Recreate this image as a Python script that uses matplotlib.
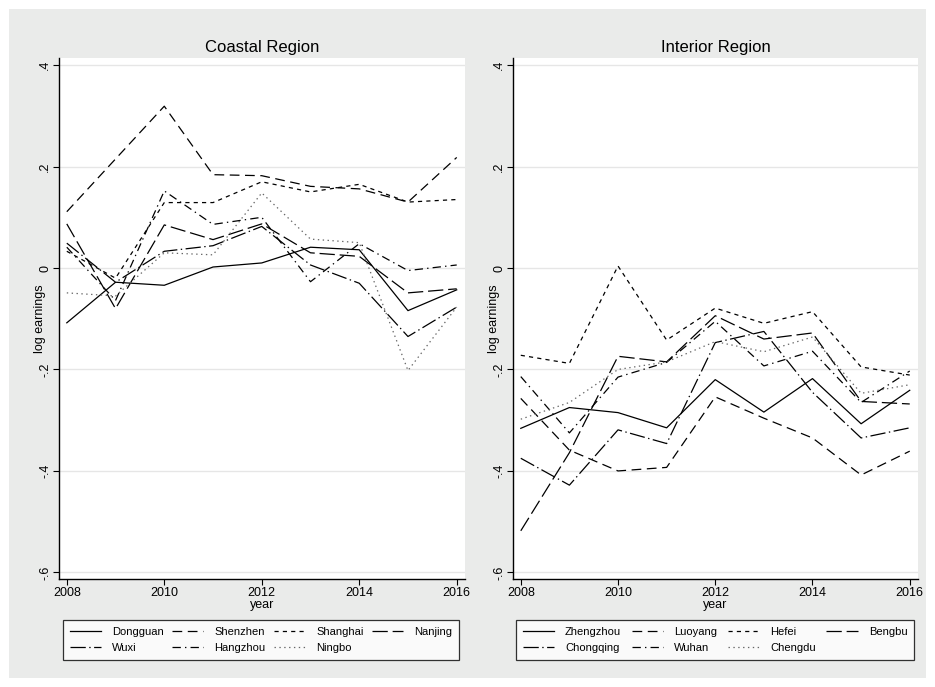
import numpy as np
import matplotlib
matplotlib.use("Agg")
from matplotlib import pyplot as plt
from matplotlib.patches import Rectangle

plt.rcParams['font.family'] = ['Liberation Sans', 'DejaVu Sans']
plt.rcParams['lines.scale_dashes'] = False

# Data
years = [2008, 2009, 2010, 2011, 2012, 2013, 2014, 2015, 2016]

coastal_names = ["Dongguan", "Shenzhen", "Shanghai", "Nanjing", "Wuxi", "Hangzhou", "Ningbo"]
dongguan = [-0.108, -0.028, -0.034, 0.002, 0.010, 0.041, 0.036, -0.084, -0.043]
shenzhen = [0.111, 0.215, 0.319, 0.184, 0.182, 0.161, 0.156, 0.130, 0.218]
shanghai = [0.033, -0.020, 0.129, 0.129, 0.170, 0.150, 0.165, 0.130, 0.135]
nanjing = [0.087, -0.080, 0.085, 0.056, 0.087, 0.030, 0.023, -0.049, -0.041]
wuxi = [0.049, -0.028, 0.033, 0.044, 0.082, 0.006, -0.030, -0.135, -0.077]
hangzhou = [0.041, -0.064, 0.152, 0.086, 0.100, -0.027, 0.048, -0.005, 0.006]
ningbo = [-0.049, -0.055, 0.030, 0.026, 0.148, 0.057, 0.050, -0.202, -0.077]

interior_names = ["Zhengzhou", "Luoyang", "Hefei", "Bengbu", "Chongqing", "Wuhan", "Chengdu"]
zhengzhou = [-0.316, -0.275, -0.285, -0.315, -0.220, -0.284, -0.218, -0.307, -0.241]
luoyang = [-0.257, -0.359, -0.400, -0.393, -0.254, -0.296, -0.335, -0.408, -0.361]
hefei = [-0.172, -0.188, 0.004, -0.142, -0.079, -0.109, -0.086, -0.195, -0.211]
bengbu = [-0.518, -0.364, -0.174, -0.185, -0.094, -0.140, -0.128, -0.263, -0.268]
chongqing = [-0.375, -0.428, -0.319, -0.346, -0.147, -0.125, -0.245, -0.335, -0.315]
wuhan = [-0.214, -0.325, -0.215, -0.186, -0.105, -0.193, -0.164, -0.265, -0.203]
chengdu = [-0.298, -0.265, -0.200, -0.185, -0.145, -0.165, -0.136, -0.247, -0.230]

# Stata-like line patterns
styles = [
    ('-', 'black'),
    ((0, (7, 4)), 'black'),
    ((0, (3, 3)), 'black'),
    ((0, (11, 3.5)), 'black'),
    ((0, (11, 2.5, 1, 2.5)), 'black'),
    ((0, (6, 3, 1, 3)), 'black'),
    ((0, (1, 2.5)), '#666666'),
]

bg = '#eaebea'
fig = plt.figure(figsize=(9.35, 6.87), dpi=100)
fig.patch.set_facecolor('white')
fig.patches.append(Rectangle((9 / 935, 9 / 687), 917 / 935, 669 / 687, transform=fig.transFigure,
                             facecolor=bg, edgecolor='none', zorder=-10))

W, H = 935, 687


def panel(x0, x1, title, names, series):
    ax = fig.add_axes([x0 / W, (H - 579) / H, (x1 - x0) / W, (579 - 58) / H])
    ax.set_facecolor('white')
    handles = []
    for name, vals, (ls, col) in zip(names, series, styles):
        h, = ax.plot(years, vals, linestyle=ls, color=col, lw=0.9, label=name)
        handles.append(h)
    ax.set_xlim(2007.84, 2016.17)
    ax.set_ylim(-0.613, 0.414)
    ax.set_xticks([2008, 2010, 2012, 2014, 2016])
    ax.set_yticks([-0.6, -0.4, -0.2, 0, 0.2, 0.4])
    ax.set_yticklabels(['-.6', '-.4', '-.2', '0', '.2', '.4'], rotation=90, va='center')
    ax.tick_params(axis='both', labelsize=9, length=4, width=0.8, pad=1.5)
    ax.grid(axis='y', color='#e6e6e6', lw=1)
    ax.set_axisbelow(True)
    for s in ['top', 'right']:
        ax.spines[s].set_visible(False)
    ax.spines['left'].set_linewidth(1)
    ax.spines['bottom'].set_linewidth(1)
    ax.set_xlabel('year', fontsize=9, labelpad=0)
    ax.set_ylabel('log earnings', fontsize=9)
    ax.yaxis.set_label_coords(-0.031, 0.5)
    ax.set_title(title, fontsize=12, pad=4)
    return ax, handles


axL, hL = panel(59, 465, 'Coastal Region', coastal_names,
                [dongguan, shenzhen, shanghai, nanjing, wuxi, hangzhou, ningbo])
axR, hR = panel(513, 918, 'Interior Region', interior_names,
                [zhengzhou, luoyang, hefei, bengbu, chongqing, wuhan, chengdu])

# legend fills column by column; reorder so it reads row by row
order = [0, 4, 1, 5, 2, 6, 3]


def legend(handles, x0, x1):
    leg = fig.legend(handles=[handles[i] for i in order], loc='lower left', ncol=4, mode='expand',
                     bbox_to_anchor=(x0 / W, (H - 660) / H, (x1 - x0) / W, 42 / H),
                     fontsize=8, frameon=True, fancybox=False, edgecolor='black',
                     handlelength=2.8, handletextpad=1.0, columnspacing=0.5,
                     labelspacing=0.6, borderpad=0.6, borderaxespad=0)
    leg.get_frame().set_linewidth(0.9)
    leg.get_frame().set_facecolor('white')
    return leg


legend(hL, 63, 459)
legend(hR, 516, 914)

fig.savefig('out.png', dpi=100, facecolor=fig.get_facecolor())
